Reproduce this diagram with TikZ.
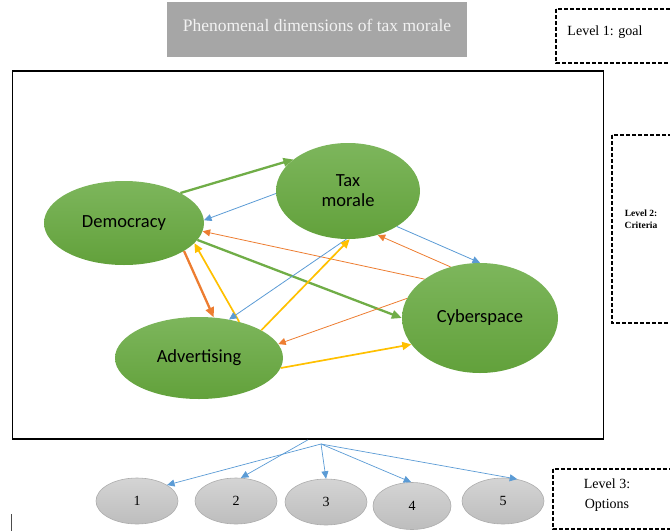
\documentclass[tikz,border=0pt]{standalone}
\usepackage{fontspec}
\setmainfont{Liberation Serif}
\newfontfamily\calib{Carlito}
\usetikzlibrary{arrows.meta,shapes.geometric}

\definecolor{titlegray}{HTML}{A6A6A6}
\definecolor{titletext}{HTML}{F2F2F2}
\definecolor{greentop}{HTML}{7DB65C}
\definecolor{greenbot}{HTML}{62A13B}
\definecolor{optop}{HTML}{D4D4D4}
\definecolor{opbot}{HTML}{BDBDBD}
\definecolor{opline}{HTML}{ADADAD}
\definecolor{cblue}{HTML}{5B9BD5}
\definecolor{corange}{HTML}{ED7D31}
\definecolor{cyellow}{HTML}{FFC000}
\definecolor{cgreen}{HTML}{70AD47}

\begin{document}
\begin{tikzpicture}[x=1pt,y=-1pt,
  crit/.style={ellipse, inner sep=0pt, top color=greentop, bottom color=greenbot,
    draw=none, align=center, font=\calib\fontsize{18.5}{20}\selectfont},
  option/.style={ellipse, inner sep=0pt, minimum width=82pt, minimum height=46pt,
    top color=optop, bottom color=opbot, draw=opline, line width=0.6pt,
    font=\fontsize{14}{16}\selectfont},
  levelbox/.style={draw=black, line width=1.2pt, dash pattern=on 4pt off 2pt},
  leveltext/.style={align=center, inner sep=0pt, font=\fontsize{14}{20}\selectfont},
  wlink/.style={line width=0.8pt, -{Triangle[length=7.5pt,width=7pt]}},
  mlink/.style={line width=1.7pt, -{Triangle[length=9pt,width=8pt]}},
  slink/.style={line width=2.3pt, -{Triangle[length=10pt,width=8.5pt]}},
]
\useasboundingbox (0,0) rectangle (670,531);
\clip (0,0) rectangle (670,531);

% goal
\node[fill=titlegray, minimum width=300pt, minimum height=55pt, inner sep=0pt,
      text=titletext, text height=13pt, text depth=10pt,
      font=\fontsize{17.5}{20}\selectfont] (title) at (317,29.5)
      {Phenomenal dimensions of tax morale};

% level labels
\draw[levelbox] (556,9) rectangle (700,63);
\node[leveltext] (lvl1) at (605,32.5) {Level 1: goal};
\draw[levelbox] (612,135) rectangle (700,323);
\node[align=center, inner sep=0pt, font=\bfseries\fontsize{9.5}{12}\selectfont] (lvl2) at (641,219) {Level 2:\\Criteria};
\draw[levelbox] (553,469) rectangle (700,529);
\node[leveltext] (lvl3) at (607,495.5) {Level 3:\\Options};

% criteria frame
\node[draw=black, line width=1.6pt, minimum width=591pt, minimum height=368pt,
      inner sep=0pt] (frame) at (308,255) {};

% criteria
\node[crit, minimum width=160pt, minimum height=84pt] (dem) at (124,223) {Democracy};
\node[crit, minimum width=144pt, minimum height=96pt] (tax) at (348,191) {Tax\\morale};
\node[crit, minimum width=156pt, minimum height=110pt] (cyb) at (480,318) {Cyberspace};
\node[crit, minimum width=168pt, minimum height=82pt] (adv) at (199,358) {Advertising};

% links between criteria
\draw[slink, cgreen] (dem.28) -- (tax.150);
\draw[wlink, cblue] (tax.182) -- (dem.2);
\draw[wlink, corange] (cyb.145) -- (dem.-6);
\draw[slink, cgreen] (dem.-13) -- (cyb.180);
\draw[slink, corange] (dem.-25) -- (adv.70);
\draw[mlink, cyellow] (adv.42) -- (dem.-16);
\draw[wlink, cblue] (tax.-92) -- (adv.52);
\draw[mlink, cyellow] (adv.24) -- (tax.-88);
\draw[wlink, corange] (cyb.120) -- (tax.-56);
\draw[wlink, cblue] (tax.-36) -- (cyb.90);
\draw[wlink, corange] (cyb.165) -- (adv.10);
\draw[mlink, cyellow] (adv.-7) -- (cyb.201);

% options
\node[option] (o1) at (137,501) {1};
\node[option] (o2) at (236,501) {2};
\node[option] (o3) at (326,502) {3};
\node[option, minimum width=78pt, minimum height=47pt] (o4) at (412,506) {4};
\node[option] (o5) at (503,501) {5};

\coordinate (hub) at (321,444);
\draw[wlink, cblue, line width=0.7pt] (frame.south) -- (o2.78);
\draw[wlink, cblue, line width=0.7pt] (hub) -- (o1.28);
\draw[wlink, cblue, line width=0.7pt] (hub) -- (o3.90);
\draw[wlink, cblue, line width=0.7pt] (hub) -- (o4.92);
\draw[wlink, cblue, line width=0.7pt] (hub) -- (o5.57);

% text cursor mark
\draw[line width=0.8pt, black!70] (11,514) -- (11,531);
\end{tikzpicture}
\end{document}
